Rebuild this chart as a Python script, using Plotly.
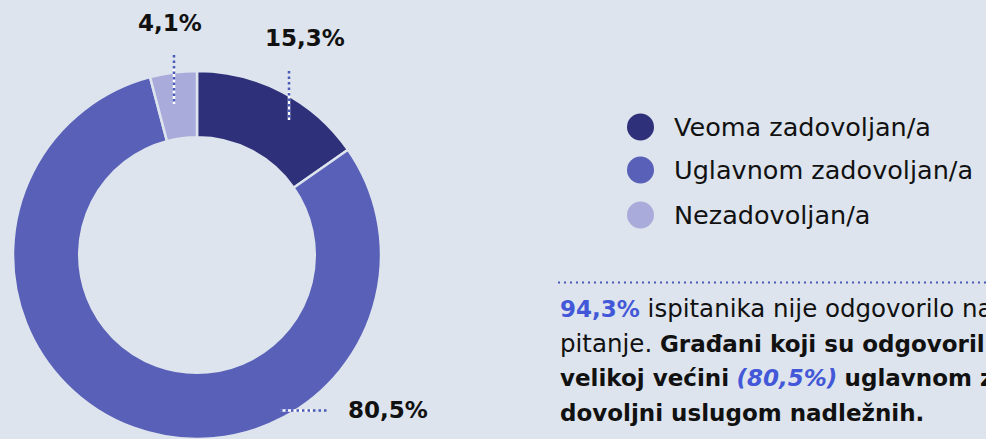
import plotly.graph_objects as go

# Survey answers
categories = ["Veoma zadovoljan/a", "Uglavnom zadovoljan/a", "Nezadovoljan/a"]
shares = [15.3, 80.5, 4.1]
colors = ["#2e3179", "#5860b8", "#a9acdb"]
value_labels = ["15,3%", "80,5%", "4,1%"]

BG = "#dde4ed"
DOT = "#4a5ab8"
ACCENT = "#4358d8"
FONT = "DejaVu Sans"
W, H = 986, 439

# donut geometry in pixels
cx, cy, R = 197, 255, 184

def px(x):
    return x / W

def py(y):
    return 1 - y / H

fig = go.Figure()
fig.add_trace(go.Pie(
    labels=categories,
    values=shares,
    marker=dict(colors=colors, line=dict(color=BG, width=2.5)),
    hole=0.64,
    sort=False,
    direction="clockwise",
    rotation=0,
    textinfo="none",
    hoverinfo="label+percent",
    showlegend=False,
    domain=dict(x=[px(cx - R), px(cx + R)], y=[py(cy + R), py(cy - R)]),
))

shapes = []
annotations = []

# leader lines: (x0, y0, x1, y1, part over the slice)
leaders = [
    ((289, 71, 289, 120), (289, 92, 289, 120)),
    ((280, 410.5, 329, 410.5), (280, 410.5, 312, 410.5)),
    ((174, 55, 174, 104), (174, 68, 174, 104)),
]
label_pos = [(305, 38), (388, 410), (170, 23)]

for (full, inner), (lx, ly), txt in zip(leaders, label_pos, value_labels):
    shapes.append(dict(type="line", xref="paper", yref="paper",
                       x0=px(inner[0]), y0=py(inner[1]), x1=px(inner[2]), y1=py(inner[3]),
                       line=dict(color="white", width=2.5)))
    shapes.append(dict(type="line", xref="paper", yref="paper",
                       x0=px(full[0]), y0=py(full[1]), x1=px(full[2]), y1=py(full[3]),
                       line=dict(color=DOT, width=2.5, dash="2.5px,3px")))
    annotations.append(dict(text=f"<b>{txt}</b>", x=px(lx), y=py(ly), xref="paper", yref="paper",
                            xanchor="center", yanchor="middle", showarrow=False,
                            font=dict(family=FONT, size=23, color="#111111")))

# legend
legend_y = [127, 170, 215]
for name, col, ly in zip(categories, colors, legend_y):
    r = 13.5
    shapes.append(dict(type="circle", xref="paper", yref="paper",
                       x0=px(640.5 - r), x1=px(640.5 + r), y0=py(ly + r), y1=py(ly - r),
                       fillcolor=col, line=dict(width=0)))
    annotations.append(dict(text=name, x=px(672), y=py(ly), xref="paper", yref="paper",
                            xanchor="left", yanchor="middle", showarrow=False,
                            font=dict(family=FONT, size=25.5, color="#111111")))

# note under the legend
shapes.append(dict(type="line", xref="paper", yref="paper",
                   x0=px(558), x1=px(1000), y0=py(282.5), y1=py(282.5),
                   line=dict(color=DOT, width=2, dash="2px,4px")))


def reg(s):
    # regular-weight run, set a touch larger than the bold runs
    return f"<span style='font-size:24.5px'>{s}</span>"


note_lines = [
    f"<span style='color:{ACCENT}'><b>94,3%</b></span>" + reg(" ispitanika nije odgovorilo na ovo"),
    reg("pitanje. ") + "<b>Građani koji su odgovorili su u</b>",
    f"<b>velikoj većini</b> <span style='color:{ACCENT}'><b><i>(80,5%)</i></b></span> <b>uglavnom za-</b>",
    "<b>dovoljni uslugom nadležnih.</b>",
]
for i, line in enumerate(note_lines):
    annotations.append(dict(text=line, x=px(558), y=py(308 + 35 * i), xref="paper", yref="paper",
                            xanchor="left", yanchor="middle", showarrow=False, align="left",
                            font=dict(family=FONT, size=23, color="#111111")))

fig.update_layout(
    width=W, height=H, autosize=False,
    margin=dict(l=0, r=0, t=0, b=0),
    paper_bgcolor=BG, plot_bgcolor=BG,
    shapes=shapes, annotations=annotations,
)

fig.write_html("out.html")
